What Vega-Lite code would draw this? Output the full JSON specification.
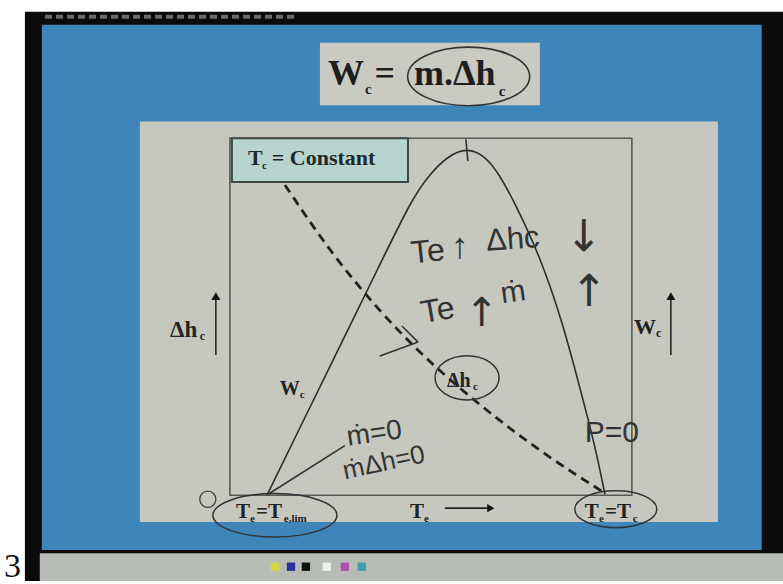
{
  "$schema": "https://vega.github.io/schema/vega-lite/v6.json",
  "width": 783,
  "height": 584,
  "autosize": {"type": "fit", "contains": "padding"},
  "padding": 0,
  "background": "white",
  "config": {"view": {"stroke": null}},
  "data": {"values": [{}]},
  "datasets": {
    "wc": [
      {"te": 0.092, "value": 0.0},
      {"te": 0.174, "value": 0.189},
      {"te": 0.266, "value": 0.4},
      {"te": 0.373, "value": 0.646},
      {"te": 0.455, "value": 0.835},
      {"te": 0.498, "value": 0.9},
      {"te": 0.54, "value": 0.948},
      {"te": 0.59, "value": 0.975},
      {"te": 0.639, "value": 0.947},
      {"te": 0.672, "value": 0.894},
      {"te": 0.704, "value": 0.83},
      {"te": 0.771, "value": 0.671},
      {"te": 0.826, "value": 0.49},
      {"te": 0.871, "value": 0.3},
      {"te": 0.908, "value": 0.14},
      {"te": 0.933, "value": 0.003}
    ],
    "dhc": [
      {"te": 0.137, "value": 0.869},
      {"te": 0.199, "value": 0.765},
      {"te": 0.274, "value": 0.648},
      {"te": 0.373, "value": 0.515},
      {"te": 0.465, "value": 0.408},
      {"te": 0.54, "value": 0.33},
      {"te": 0.647, "value": 0.23},
      {"te": 0.746, "value": 0.145},
      {"te": 0.846, "value": 0.068},
      {"te": 0.933, "value": 0.006}
    ]
  },
  "layer": [
    {
      "mark": {"type": "rect", "color": "#0b0b0b"},
      "encoding": {
        "x": {"datum": -0.51, "type": "quantitative", "scale": {"domain": [-0.572, 1.376], "nice": false, "zero": false}, "axis": null},
        "x2": {"datum": 1.376},
        "y": {"datum": 1.354, "type": "quantitative", "scale": {"domain": [-0.24, 1.387], "nice": false, "zero": false}, "axis": null},
        "y2": {"datum": -0.24}
      }
    },
    {
      "mark": {"type": "rule", "color": "#6a6a6a", "strokeWidth": 4, "strokeDash": [7, 4]},
      "encoding": {"x": {"datum": -0.46}, "x2": {"datum": 0.162}, "y": {"datum": 1.34}}
    },
    {
      "mark": {"type": "rect", "color": "#3e86ba"},
      "encoding": {"x": {"datum": -0.468}, "x2": {"datum": 1.323}, "y": {"datum": 1.318}, "y2": {"datum": -0.153}}
    },
    {
      "mark": {"type": "rect", "color": "#b8bcb6"},
      "encoding": {"x": {"datum": -0.473}, "x2": {"datum": 1.376}, "y": {"datum": -0.162}, "y2": {"datum": -0.24}}
    },
    {
      "mark": {"type": "point", "shape": "square", "size": 70, "filled": true, "color": "#d6d63c", "opacity": 1},
      "encoding": {"x": {"datum": 0.112}, "y": {"datum": -0.2}}
    },
    {
      "mark": {"type": "point", "shape": "square", "size": 70, "filled": true, "color": "#2e2e9e", "opacity": 1},
      "encoding": {"x": {"datum": 0.152}, "y": {"datum": -0.2}}
    },
    {
      "mark": {"type": "point", "shape": "square", "size": 70, "filled": true, "color": "#111111", "opacity": 1},
      "encoding": {"x": {"datum": 0.189}, "y": {"datum": -0.2}}
    },
    {
      "mark": {"type": "point", "shape": "square", "size": 70, "filled": true, "color": "#eeeeee", "opacity": 1},
      "encoding": {"x": {"datum": 0.241}, "y": {"datum": -0.2}}
    },
    {
      "mark": {"type": "point", "shape": "square", "size": 70, "filled": true, "color": "#b050b0", "opacity": 1},
      "encoding": {"x": {"datum": 0.286}, "y": {"datum": -0.2}}
    },
    {
      "mark": {"type": "point", "shape": "square", "size": 70, "filled": true, "color": "#3fa0a8", "opacity": 1},
      "encoding": {"x": {"datum": 0.328}, "y": {"datum": -0.2}}
    },
    {
      "mark": {"type": "rect", "color": "#c6c8c0"},
      "encoding": {"x": {"datum": -0.224}, "x2": {"datum": 1.214}, "y": {"datum": 1.047}, "y2": {"datum": -0.075}}
    },
    {
      "mark": {"type": "rect", "color": "#c9cbc3"},
      "encoding": {"x": {"datum": 0.224}, "x2": {"datum": 0.771}, "y": {"datum": 1.267}, "y2": {"datum": 1.092}}
    },
    {
      "mark": {"type": "rect", "fill": null, "stroke": "#555a57", "strokeWidth": 1.6},
      "encoding": {"x": {"datum": 0}, "x2": {"datum": 1}, "y": {"datum": 1}, "y2": {"datum": 0}}
    },
    {
      "mark": {"type": "rect", "fill": "#b8d4cf", "stroke": "#3d4a48", "strokeWidth": 2},
      "encoding": {"x": {"datum": 0.005}, "x2": {"datum": 0.443}, "y": {"datum": 1.0}, "y2": {"datum": 0.877}}
    },
    {
      "data": {"name": "wc"},
      "mark": {"type": "line", "color": "#2e2e2e", "strokeWidth": 1.6, "interpolate": "basis"},
      "encoding": {"x": {"field": "te", "type": "quantitative"}, "y": {"field": "value", "type": "quantitative"}}
    },
    {
      "data": {"name": "dhc"},
      "mark": {"type": "line", "color": "#222222", "strokeWidth": 2.8, "strokeDash": [9, 6], "interpolate": "basis"},
      "encoding": {"x": {"field": "te", "type": "quantitative"}, "y": {"field": "value", "type": "quantitative"}}
    },
    {
      "mark": {"type": "text", "text": "W", "font": "Liberation Serif", "fontWeight": "bold", "fontSize": 36, "align": "left", "baseline": "alphabetic", "color": "#1e1e1e"},
      "encoding": {"x": {"datum": 0.244}, "y": {"datum": 1.15}}
    },
    {
      "mark": {"type": "text", "text": "c", "font": "Liberation Serif", "fontWeight": "bold", "fontSize": 15, "align": "left", "baseline": "alphabetic", "color": "#1e1e1e"},
      "encoding": {"x": {"datum": 0.336}, "y": {"datum": 1.125}}
    },
    {
      "mark": {"type": "text", "text": "=", "font": "Liberation Serif", "fontWeight": "bold", "fontSize": 36, "align": "left", "baseline": "alphabetic", "color": "#1e1e1e"},
      "encoding": {"x": {"datum": 0.36}, "y": {"datum": 1.15}}
    },
    {
      "mark": {"type": "text", "text": "m.Δh", "font": "Liberation Serif", "fontWeight": "bold", "fontSize": 36, "align": "left", "baseline": "alphabetic", "color": "#1e1e1e"},
      "encoding": {"x": {"datum": 0.458}, "y": {"datum": 1.15}}
    },
    {
      "mark": {"type": "text", "text": "c", "font": "Liberation Serif", "fontWeight": "bold", "fontSize": 15, "align": "left", "baseline": "alphabetic", "color": "#1e1e1e"},
      "encoding": {"x": {"datum": 0.669}, "y": {"datum": 1.117}}
    },
    {
      "mark": {"type": "point", "shape": "M -1 0 A 1 0.48 0 1 0 1 0 A 1 0.48 0 1 0 -1 0 Z", "size": 14884, "filled": false, "stroke": "#333333", "strokeWidth": 1.6, "opacity": 1},
      "encoding": {"x": {"datum": 0.594}, "y": {"datum": 1.173}}
    },
    {
      "mark": {"type": "text", "text": "T", "font": "Liberation Serif", "fontWeight": "bold", "fontSize": 22, "align": "left", "baseline": "alphabetic", "color": "#1f2a28"},
      "encoding": {"x": {"datum": 0.045}, "y": {"datum": 0.925}}
    },
    {
      "mark": {"type": "text", "text": "c", "font": "Liberation Serif", "fontWeight": "bold", "fontSize": 11, "align": "left", "baseline": "alphabetic", "color": "#1f2a28"},
      "encoding": {"x": {"datum": 0.08}, "y": {"datum": 0.914}}
    },
    {
      "mark": {"type": "text", "text": "= Constant", "font": "Liberation Serif", "fontWeight": "bold", "fontSize": 22, "align": "left", "baseline": "alphabetic", "color": "#1f2a28"},
      "encoding": {"x": {"datum": 0.104}, "y": {"datum": 0.925}}
    },
    {
      "mark": {"type": "text", "text": "Δh", "font": "Liberation Serif", "fontWeight": "bold", "fontSize": 23, "align": "left", "baseline": "alphabetic", "color": "#222222"},
      "encoding": {"x": {"datum": -0.149}, "y": {"datum": 0.443}}
    },
    {
      "mark": {"type": "text", "text": "c", "font": "Liberation Serif", "fontWeight": "bold", "fontSize": 12, "align": "left", "baseline": "alphabetic", "color": "#222222"},
      "encoding": {"x": {"datum": -0.075}, "y": {"datum": 0.435}}
    },
    {
      "mark": {"type": "rule", "color": "#2a2a2a", "strokeWidth": 1.6},
      "encoding": {"x": {"datum": -0.035}, "y": {"datum": 0.393}, "y2": {"datum": 0.552}}
    },
    {
      "mark": {"type": "point", "shape": "triangle-up", "size": 80, "filled": true, "color": "#111111", "opacity": 1},
      "encoding": {"x": {"datum": -0.035}, "y": {"datum": 0.558}}
    },
    {
      "mark": {"type": "text", "text": "W", "font": "Liberation Serif", "fontWeight": "bold", "fontSize": 22, "align": "left", "baseline": "alphabetic", "color": "#222222"},
      "encoding": {"x": {"datum": 1.005}, "y": {"datum": 0.451}}
    },
    {
      "mark": {"type": "text", "text": "c", "font": "Liberation Serif", "fontWeight": "bold", "fontSize": 12, "align": "left", "baseline": "alphabetic", "color": "#222222"},
      "encoding": {"x": {"datum": 1.06}, "y": {"datum": 0.443}}
    },
    {
      "mark": {"type": "rule", "color": "#2a2a2a", "strokeWidth": 1.6},
      "encoding": {"x": {"datum": 1.097}, "y": {"datum": 0.393}, "y2": {"datum": 0.552}}
    },
    {
      "mark": {"type": "point", "shape": "triangle-up", "size": 80, "filled": true, "color": "#111111", "opacity": 1},
      "encoding": {"x": {"datum": 1.097}, "y": {"datum": 0.558}}
    },
    {
      "mark": {"type": "text", "text": "W", "font": "Liberation Serif", "fontWeight": "bold", "fontSize": 20, "align": "left", "baseline": "alphabetic", "color": "#222222"},
      "encoding": {"x": {"datum": 0.124}, "y": {"datum": 0.281}}
    },
    {
      "mark": {"type": "text", "text": "c", "font": "Liberation Serif", "fontWeight": "bold", "fontSize": 11, "align": "left", "baseline": "alphabetic", "color": "#222222"},
      "encoding": {"x": {"datum": 0.174}, "y": {"datum": 0.273}}
    },
    {
      "mark": {"type": "text", "text": "Δh", "font": "Liberation Serif", "fontWeight": "bold", "fontSize": 20, "align": "left", "baseline": "alphabetic", "color": "#222222"},
      "encoding": {"x": {"datum": 0.54}, "y": {"datum": 0.304}}
    },
    {
      "mark": {"type": "text", "text": "c", "font": "Liberation Serif", "fontWeight": "bold", "fontSize": 11, "align": "left", "baseline": "alphabetic", "color": "#222222"},
      "encoding": {"x": {"datum": 0.605}, "y": {"datum": 0.295}}
    },
    {
      "mark": {"type": "point", "shape": "M -1 0 A 1 0.69 0 1 0 1 0 A 1 0.69 0 1 0 -1 0 Z", "size": 4096, "filled": false, "stroke": "#333333", "strokeWidth": 1.5, "opacity": 1},
      "encoding": {"x": {"datum": 0.59}, "y": {"datum": 0.329}}
    },
    {
      "mark": {"type": "text", "text": "T", "font": "Liberation Serif", "fontWeight": "bold", "fontSize": 21, "align": "left", "baseline": "alphabetic", "color": "#222222"},
      "encoding": {"x": {"datum": 0.015}, "y": {"datum": -0.064}}
    },
    {
      "mark": {"type": "text", "text": "e", "font": "Liberation Serif", "fontWeight": "bold", "fontSize": 11, "align": "left", "baseline": "alphabetic", "color": "#222222"},
      "encoding": {"x": {"datum": 0.05}, "y": {"datum": -0.075}}
    },
    {
      "mark": {"type": "text", "text": "=T", "font": "Liberation Serif", "fontWeight": "bold", "fontSize": 21, "align": "left", "baseline": "alphabetic", "color": "#222222"},
      "encoding": {"x": {"datum": 0.065}, "y": {"datum": -0.064}}
    },
    {
      "mark": {"type": "text", "text": "e,lim", "font": "Liberation Serif", "fontWeight": "bold", "fontSize": 11, "align": "left", "baseline": "alphabetic", "color": "#222222"},
      "encoding": {"x": {"datum": 0.134}, "y": {"datum": -0.075}}
    },
    {
      "mark": {"type": "point", "shape": "M -1 0 A 1 0.35 0 1 0 1 0 A 1 0.35 0 1 0 -1 0 Z", "size": 15376, "filled": false, "stroke": "#333333", "strokeWidth": 1.5, "opacity": 1},
      "encoding": {"x": {"datum": 0.112}, "y": {"datum": -0.056}}
    },
    {
      "mark": {"type": "text", "text": "T", "font": "Liberation Serif", "fontWeight": "bold", "fontSize": 21, "align": "left", "baseline": "alphabetic", "color": "#222222"},
      "encoding": {"x": {"datum": 0.448}, "y": {"datum": -0.064}}
    },
    {
      "mark": {"type": "text", "text": "e", "font": "Liberation Serif", "fontWeight": "bold", "fontSize": 11, "align": "left", "baseline": "alphabetic", "color": "#222222"},
      "encoding": {"x": {"datum": 0.483}, "y": {"datum": -0.075}}
    },
    {
      "mark": {"type": "rule", "color": "#222222", "strokeWidth": 1.6},
      "encoding": {"x": {"datum": 0.535}, "x2": {"datum": 0.642}, "y": {"datum": -0.036}}
    },
    {
      "mark": {"type": "point", "shape": "triangle-right", "size": 70, "filled": true, "color": "#111111", "opacity": 1},
      "encoding": {"x": {"datum": 0.649}, "y": {"datum": -0.036}}
    },
    {
      "mark": {"type": "text", "text": "T", "font": "Liberation Serif", "fontWeight": "bold", "fontSize": 21, "align": "left", "baseline": "alphabetic", "color": "#222222"},
      "encoding": {"x": {"datum": 0.883}, "y": {"datum": -0.064}}
    },
    {
      "mark": {"type": "text", "text": "e", "font": "Liberation Serif", "fontWeight": "bold", "fontSize": 11, "align": "left", "baseline": "alphabetic", "color": "#222222"},
      "encoding": {"x": {"datum": 0.918}, "y": {"datum": -0.075}}
    },
    {
      "mark": {"type": "text", "text": "=T", "font": "Liberation Serif", "fontWeight": "bold", "fontSize": 21, "align": "left", "baseline": "alphabetic", "color": "#222222"},
      "encoding": {"x": {"datum": 0.933}, "y": {"datum": -0.064}}
    },
    {
      "mark": {"type": "text", "text": "c", "font": "Liberation Serif", "fontWeight": "bold", "fontSize": 11, "align": "left", "baseline": "alphabetic", "color": "#222222"},
      "encoding": {"x": {"datum": 1.002}, "y": {"datum": -0.075}}
    },
    {
      "mark": {"type": "point", "shape": "M -1 0 A 1 0.45 0 1 0 1 0 A 1 0.45 0 1 0 -1 0 Z", "size": 6724, "filled": false, "stroke": "#333333", "strokeWidth": 1.5, "opacity": 1},
      "encoding": {"x": {"datum": 0.96}, "y": {"datum": -0.039}}
    },
    {
      "mark": {"type": "point", "shape": "circle", "size": 260, "filled": false, "stroke": "#444444", "strokeWidth": 1.3, "opacity": 1},
      "encoding": {"x": {"datum": -0.055}, "y": {"datum": -0.011}}
    },
    {
      "mark": {"type": "text", "text": "Te", "font": "Liberation Sans", "fontSize": 32, "angle": -6, "align": "left", "baseline": "alphabetic", "color": "#333333"},
      "encoding": {"x": {"datum": 0.453}, "y": {"datum": 0.649}}
    },
    {
      "mark": {"type": "text", "text": "↑", "font": "Liberation Sans", "fontSize": 36, "align": "left", "baseline": "alphabetic", "color": "#333333"},
      "encoding": {"x": {"datum": 0.55}, "y": {"datum": 0.665}}
    },
    {
      "mark": {"type": "text", "text": "Δhc", "font": "Liberation Sans", "fontSize": 31, "angle": -4, "align": "left", "baseline": "alphabetic", "color": "#333333"},
      "encoding": {"x": {"datum": 0.639}, "y": {"datum": 0.685}}
    },
    {
      "mark": {"type": "text", "text": "↓", "font": "DejaVu Sans", "fontSize": 44, "align": "left", "baseline": "alphabetic", "color": "#333333"},
      "encoding": {"x": {"datum": 0.835}, "y": {"datum": 0.683}}
    },
    {
      "mark": {"type": "text", "text": "Te", "font": "Liberation Sans", "fontSize": 32, "angle": -10, "align": "left", "baseline": "alphabetic", "color": "#333333"},
      "encoding": {"x": {"datum": 0.48}, "y": {"datum": 0.482}}
    },
    {
      "mark": {"type": "text", "text": "↑", "font": "DejaVu Sans", "fontSize": 40, "align": "left", "baseline": "alphabetic", "color": "#333333"},
      "encoding": {"x": {"datum": 0.585}, "y": {"datum": 0.475}}
    },
    {
      "mark": {"type": "text", "text": "ṁ", "font": "Liberation Sans", "fontSize": 30, "angle": -8, "align": "left", "baseline": "alphabetic", "color": "#333333"},
      "encoding": {"x": {"datum": 0.677}, "y": {"datum": 0.538}}
    },
    {
      "mark": {"type": "text", "text": "↑", "font": "DejaVu Sans", "fontSize": 44, "align": "left", "baseline": "alphabetic", "color": "#333333"},
      "encoding": {"x": {"datum": 0.848}, "y": {"datum": 0.53}}
    },
    {
      "mark": {"type": "text", "text": "ṁ=0", "font": "Liberation Sans", "fontSize": 28, "angle": -8, "align": "left", "baseline": "alphabetic", "color": "#333333"},
      "encoding": {"x": {"datum": 0.294}, "y": {"datum": 0.139}}
    },
    {
      "mark": {"type": "text", "text": "ṁΔh=0", "font": "Liberation Sans", "fontSize": 26, "angle": -12, "align": "left", "baseline": "alphabetic", "color": "#333333"},
      "encoding": {"x": {"datum": 0.286}, "y": {"datum": 0.045}}
    },
    {
      "mark": {"type": "text", "text": "P=0", "font": "Liberation Sans", "fontSize": 30, "align": "left", "baseline": "alphabetic", "color": "#333333"},
      "encoding": {"x": {"datum": 0.883}, "y": {"datum": 0.148}}
    },
    {
      "mark": {"type": "rule", "color": "#333333", "strokeWidth": 1.6},
      "encoding": {"x": {"datum": 0.286}, "x2": {"datum": 0.095}, "y": {"datum": 0.139}, "y2": {"datum": 0.003}}
    },
    {
      "mark": {"type": "rule", "color": "#333333", "strokeWidth": 1.6},
      "encoding": {"x": {"datum": 0.373}, "x2": {"datum": 0.468}, "y": {"datum": 0.39}, "y2": {"datum": 0.429}}
    },
    {
      "mark": {"type": "rule", "color": "#333333", "strokeWidth": 1.6},
      "encoding": {"x": {"datum": 0.428}, "x2": {"datum": 0.468}, "y": {"datum": 0.474}, "y2": {"datum": 0.429}}
    },
    {
      "mark": {"type": "rule", "color": "#333333", "strokeWidth": 1.6},
      "encoding": {"x": {"datum": 0.587}, "x2": {"datum": 0.592}, "y": {"datum": 0.997}, "y2": {"datum": 0.936}}
    },
    {
      "mark": {"type": "text", "text": "3", "font": "Liberation Serif", "fontSize": 34, "align": "left", "baseline": "alphabetic", "color": "#111111"},
      "encoding": {"x": {"datum": -0.562}, "y": {"datum": -0.228}}
    }
  ]
}
